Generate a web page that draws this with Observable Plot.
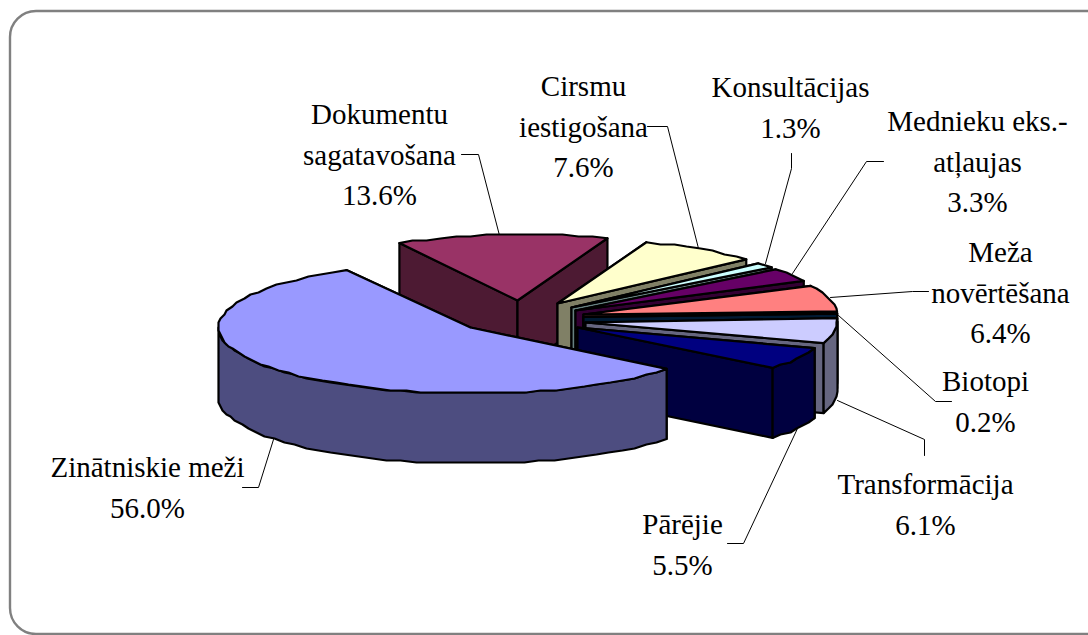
<!DOCTYPE html>
<html>
<head>
<meta charset="utf-8">
<script src="https://cdn.jsdelivr.net/npm/d3@7"></script>
<script src="https://cdn.jsdelivr.net/npm/@observablehq/plot@0.6"></script>
<style>html,body{margin:0;padding:0;background:#fff;overflow:hidden}svg{display:block}</style>
</head>
<body>
<div id="chart"></div>
<script>
// Data, in clockwise pie order
const categories = ["Zinātniskie meži","Dokumentu\nsagatavošana","Cirsmu\niestigošana","Konsultācijas","Mednieku eks.-\natļaujas","Meža\nnovērtēšana","Biotopi","Transformācija","Pārējie"];
const shares = [56.0,13.6,7.6,1.3,3.3,6.4,0.2,6.1,5.5];
const topColors = ["#9999FF","#993366","#FFFFCC","#CCFFFF","#660066","#FF8080","#003366","#CCCCFF","#000080"];
const wallColors = ["#4D4D80","#4D1A33","#808066","#668080","#330033","#804040","#001A33","#666680","#000040"];

// Pie layout: arc centre and wedge tip of each exploded slice
const arcCentres = [[470,327],[523,300],[562,304],[574,308],[578,310],[585,315],[585,316.5],[585,321],[576,326]];
const tips = [[470,327],[517,300],[557,303],[571,307],[575,310],[583,314],[583,316.5],[585,322],[577,327]];
const RX = 252, RY = 66, DEPTH = 70, START = 38.9, FACET = 3.5, GRID = 2;
// Label anchors and leader paths
const labelAnchors = [[147,484],[379,151],[583,123],[790,104],[977,158],[1000,289],[985,398],[925,501],[682,541]];
const leaders = [
  [[273,439],[258,487],[242,487]],
  [[499,235],[478,154],[461,154]],
  [[698,248],[667,126],[647,126]],
  [[765,263],[791,168],[791,153]],
  [[792,273],[866,161],[883,161]],
  [[830,297],[912,291],[928,291]],
  [[838,315],[935,401],[951,401]],
  [[837,400],[924,439],[924,455]],
  [[797,428],[743,543],[727,543]]
];

const total = d3.sum(shares);
const polys = [];
let id = 0;
function addPoly(pts, fill) {
  const k = id++;
  for (const [x, y] of [...pts, pts[0]]) polys.push({x, y, k, fill});
}
const angles = [];
let a = START;
shares.forEach(v => { angles.push([a, a + v / total * 360]); a += v / total * 360; });

function arcPoints(cx, cy, a0, a1) {
  const n = Math.max(1, Math.round((a1 - a0) / FACET));
  return d3.range(n + 1).map(j => {
    const t = (a0 + (a1 - a0) * j / n) * Math.PI / 180;
    const x = cx + RX * Math.cos(t), y = cy + RY * Math.sin(t);
    // the reference's outline is stepped: snap inner vertices to a coarse grid
    return (j === 0 || j === n) ? [x, y] : [Math.round(x / GRID) * GRID, Math.round(y / GRID) * GRID];
  });
}
const down = ([x, y]) => [x, y + DEPTH];

// Painted from the back slices to the front ones; the big slice last
const order = [1,2,3,4,5,6,7,8,0];
for (const i of order) {
  const [a0, a1] = angles[i];
  const [cx, cy] = arcCentres[i];
  const tip = tips[i];
  const arc = arcPoints(cx, cy, a0, a1);
  const first = arc[0], last = arc[arc.length - 1];
  addPoly([tip, first, down(first), down(tip)], wallColors[i]);
  addPoly([tip, last, down(last), down(tip)], wallColors[i]);
  // outer wall: only the part of the rim facing the viewer
  for (const k of [0, 360]) {
    const lo = Math.max(a0, k), hi = Math.min(a1, k + 180);
    if (hi > lo) {
      const rim = arcPoints(cx, cy, lo, hi);
      addPoly([...rim, ...rim.slice().reverse().map(down)], wallColors[i]);
    }
  }
  addPoly([tip, ...arc], topColors[i]);
}

const leaderRows = leaders.flatMap((path, k) => path.map(([x, y]) => ({x, y, k})));
const labels = categories.map((c, i) => ({
  text: c + "\n" + shares[i].toFixed(1) + "%",
  x: labelAnchors[i][0], y: labelAnchors[i][1]
}));

const chart = Plot.plot({
  width: 1088, height: 635,
  margin: 0,
  style: {background: "#fff", overflow: "hidden"},
  x: {domain: [0, 1088], range: [0, 1088], axis: null},
  y: {domain: [0, 635], range: [0, 635], axis: null},
  color: {type: "identity"},
  marks: [
    Plot.rect([{}], {x1: () => 10, x2: () => 1200, y1: () => 11, y2: () => 634, rx: 26, ry: 26,
      fill: "#fff", stroke: "#808080", strokeWidth: 2.4}),
    Plot.line(leaderRows, {x: "x", y: "y", z: "k", stroke: "#000", strokeWidth: 1}),
    Plot.line(polys, {x: "x", y: "y", z: "k", fill: "fill", stroke: "#000", strokeWidth: 2.2, strokeLinejoin: "round"}),
    Plot.text(labels, {x: "x", y: "y", text: "text", fontFamily: "Liberation Serif", fontSize: 29,
      lineHeight: 1.41, textAnchor: "middle", fill: "#000"})
  ]
});
document.getElementById("chart").appendChild(chart);
</script>
</body>
</html>
